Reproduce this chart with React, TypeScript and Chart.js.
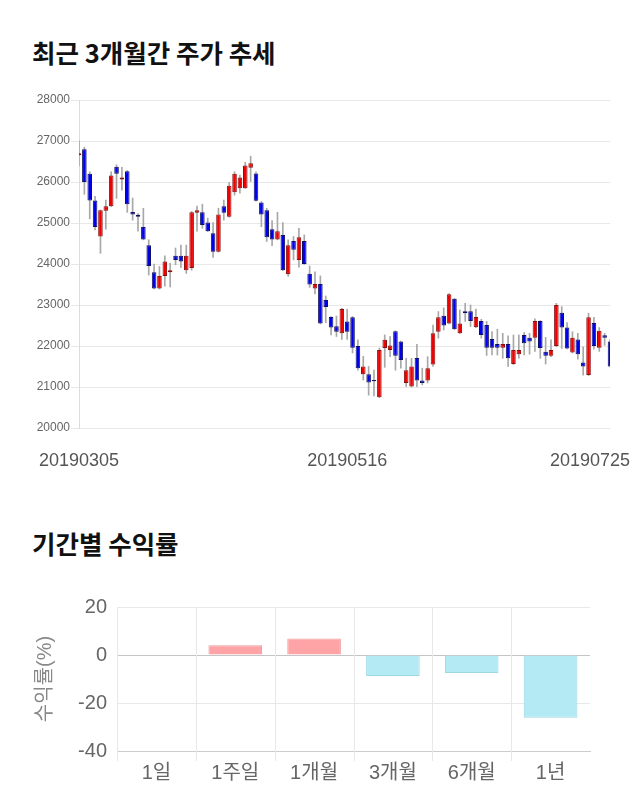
import React, { useEffect, useRef } from "react";
import { Chart, registerables } from "chart.js";

Chart.register(...registerables);

const FONT = "'Liberation Sans', 'Noto Sans CJK KR', Arial, sans-serif";
const TITLE_FONT = "'Noto Sans CJK KR', 'Noto Sans', sans-serif";

// ---------- price data (trading days) ----------
const dates = [
  "20190305","20190306","20190307","20190308","20190311","20190312","20190313","20190314","20190315","20190318",
  "20190319","20190320","20190321","20190322","20190325","20190326","20190327","20190328","20190329","20190401",
  "20190402","20190403","20190404","20190405","20190408","20190409","20190410","20190411","20190412","20190415",
  "20190416","20190417","20190418","20190419","20190422","20190423","20190424","20190425","20190426","20190429",
  "20190430","20190502","20190503","20190507","20190508","20190509","20190510","20190513","20190514","20190515",
  "20190516","20190517","20190520","20190521","20190522","20190523","20190524","20190527","20190528","20190529",
  "20190530","20190531","20190603","20190604","20190605","20190607","20190610","20190611","20190612","20190613",
  "20190614","20190617","20190618","20190619","20190620","20190621","20190624","20190625","20190626","20190627",
  "20190628","20190701","20190702","20190703","20190704","20190705","20190708","20190709","20190710","20190711",
  "20190712","20190715","20190716","20190717","20190718","20190719","20190722","20190723","20190724","20190725",
];

const openPrices = [
  26650,26800,26200,25550,24670,25300,25410,26370,26060,26260,
  25270,25200,24900,24460,23800,23400,23710,23800,24200,24200,
  23850,23900,25250,25260,25010,24750,24300,25410,25150,25750,
  25850,25850,26350,26210,25500,25310,24850,24600,24710,23750,
  24560,24100,24560,23760,23400,23510,23120,22710,22480,22310,
  22600,22700,22000,21310,21310,21170,20750,21950,21900,22360,
  22110,21100,21010,21710,21160,21160,21550,22350,22740,22550,
  23150,22310,22850,22850,22460,22610,22510,22170,22050,21960,
  22050,21560,21800,22270,22200,22200,22610,21860,21760,22000,
  22810,22450,21840,22160,21600,21290,22560,21960,22260,22110,
];

const highPrices = [
  27000,26850,26250,25650,25320,25560,26250,26420,26360,26280,
  25610,25230,25360,24590,24000,23940,24200,24020,24390,24460,
  24460,25280,25410,25460,25120,25010,25360,25560,25990,26250,
  26170,26480,26630,26250,25520,25360,25060,25260,25010,24590,
  24670,24870,24710,23950,23810,23710,23220,22720,22730,22920,
  22900,22720,22150,21750,21500,21410,21950,22270,22230,22370,
  22120,21700,21700,22040,21460,21740,22510,22840,22930,23280,
  23160,22880,23040,23000,22900,22650,22600,22350,22410,22310,
  22250,22270,22270,22330,22310,22660,22620,22210,22150,23040,
  22960,22570,22350,22310,21980,22800,22700,22450,22310,22150,
];

const lowPrices = [
  26400,25700,25100,24830,24260,24850,25400,25600,25800,25260,
  25070,24800,24590,23730,23390,23390,23460,23440,23980,23910,
  23770,23850,24800,24870,24790,24160,24290,25070,25140,25680,
  25730,25840,26010,25530,24910,24550,24450,24590,23840,23700,
  24100,23920,23990,23430,23270,22540,22570,22270,22230,22160,
  22160,21830,21410,21170,20800,20780,20740,21480,21740,21410,
  21460,21010,21000,21010,21050,21100,21500,22190,22390,22540,
  22400,22300,22600,22470,22450,22190,21770,21780,21780,21700,
  21500,21550,21700,21780,21800,21870,21700,21560,21740,21980,
  21940,21930,21830,21680,21290,21280,21920,21870,22020,21490,
];

const closePrices = [
  26700,26000,25550,24900,25310,25410,26160,26200,26110,25460,
  25210,25150,24600,23950,23400,23710,24060,23850,24100,24060,
  24200,25260,25310,24950,24800,24300,25210,25250,25910,26200,
  26110,26400,26460,25540,25210,24650,24600,24800,23850,24460,
  24350,24650,24000,23500,23510,22550,22950,22450,22350,22900,
  22350,21960,21460,21500,21110,21140,21900,22150,22010,21760,
  21660,21410,21500,21160,21100,21460,22310,22700,22500,23260,
  22410,22550,22800,22610,22710,22270,21960,21960,21960,22050,
  21700,21900,21900,22070,22110,22610,21950,21760,21900,23000,
  22450,21940,22200,21800,21500,22700,22000,22370,22200,21500,
];

const shownDates = ["20190305", "20190516", "20190725"];
const priceMin = 20000;
const priceMax = 28000;
const priceStep = 1000;

// ---------- period returns ----------
const periods = ["1일", "1주일", "1개월", "3개월", "6개월", "1년"];
const returns = [0, 4.1, 6.9, -8.8, -7.5, -26.1];
const returnMin = -40;
const returnMax = 20;
const returnStep = 20;

const UP = "#f00000";
const UP_BORDER = "#8a1010";
const DOWN = "#0000f0";
const DOWN_BORDER = "#101060";
const WICK = "#a8a8a8";
const GRID = "#e8e8e8";

const dateLabelPlugin = {
  id: "dateLabels",
  afterDraw(chart: any) {
    const { ctx, chartArea } = chart;
    const xs = chart.scales.x;
    ctx.save();
    ctx.font = `18px ${FONT}`;
    ctx.fillStyle = "#555";
    ctx.textAlign = "center";
    ctx.textBaseline = "middle";
    shownDates.forEach((d) => {
      const i = dates.indexOf(d);
      const w = ctx.measureText(d).width;
      let x = xs.getPixelForValue(i);
      x = Math.min(Math.max(x, w / 2 + 2), chart.width - 10 - w / 2);
      ctx.fillText(d, x, chartArea.bottom + 33);
    });
    ctx.restore();
  },
};

// vertical separators between period categories (no line at the right edge)
const categoryGridPlugin = {
  id: "categoryGrid",
  beforeDatasetsDraw(chart: any) {
    const { ctx, chartArea } = chart;
    const xs = chart.scales.x;
    const n = xs.ticks.length;
    const step = n > 1 ? xs.getPixelForValue(1) - xs.getPixelForValue(0) : chartArea.width;
    ctx.save();
    ctx.strokeStyle = GRID;
    ctx.lineWidth = 1;
    for (let i = 0; i < n; i++) {
      const x = Math.round(xs.getPixelForValue(i) - step / 2) + 0.5;
      ctx.beginPath();
      ctx.moveTo(x, chartArea.top);
      ctx.lineTo(x, chartArea.bottom + 10);
      ctx.stroke();
    }
    ctx.restore();
  },
};

function PriceChart() {
  const ref = useRef<HTMLCanvasElement>(null);
  useEffect(() => {
    const up = closePrices.map((c, i) => c >= openPrices[i]);
    const chart = new Chart(ref.current!, {
      type: "bar",
      data: {
        labels: dates,
        datasets: [
          {
            label: "body",
            data: openPrices.map((o, i) => [o, closePrices[i]]) as any,
            backgroundColor: up.map((u) => (u ? UP : DOWN)),
            borderColor: up.map((u) => (u ? UP_BORDER : DOWN_BORDER)),
            borderWidth: 1,
            borderSkipped: false,
            categoryPercentage: 1,
            barPercentage: 0.85,
            grouped: false,
          } as any,
          {
            label: "wick",
            data: lowPrices.map((l, i) => [l, highPrices[i]]) as any,
            backgroundColor: WICK,
            barThickness: 1,
            grouped: false,
          } as any,
        ],
      },
      options: {
        responsive: false,
        animation: false,
        layout: { padding: { left: 19, right: 30, top: 15, bottom: 57 } },
        plugins: { legend: { display: false }, tooltip: { enabled: false } },
        scales: {
          x: { display: false, offset: false, grid: { display: false } },
          y: {
            min: priceMin,
            max: priceMax,
            ticks: {
              stepSize: priceStep,
              color: "#666",
              font: { size: 12, family: FONT },
              padding: 1,
              callback: (v: any) => String(v),
            },
            grid: { color: GRID, tickLength: 8 },
            border: { color: "#dcdcdc" },
            afterFit: (s: any) => {
              s.width = 60;
            },
          },
        },
      } as any,
      plugins: [dateLabelPlugin],
    });
    return () => chart.destroy();
  }, []);
  return (
    <canvas
      ref={ref}
      width={640}
      height={400}
      style={{ position: "absolute", left: 0, top: 85, width: 640, height: 400 }}
    />
  );
}

function ReturnChart() {
  const ref = useRef<HTMLCanvasElement>(null);
  useEffect(() => {
    const chart = new Chart(ref.current!, {
      type: "bar",
      data: {
        labels: periods,
        datasets: [
          {
            data: returns,
            backgroundColor: returns.map((v) => (v >= 0 ? "#ffa4a6" : "#b3eaf3")),
            borderColor: returns.map((v) => (v >= 0 ? "#eb9c9e" : "#9fd8e4")),
            borderWidth: 1,
            barPercentage: 0.85,
            categoryPercentage: 0.8,
          },
        ],
      },
      options: {
        responsive: false,
        animation: false,
        layout: { padding: { left: 29, right: 50, top: 20, bottom: 0 } },
        plugins: { legend: { display: false }, tooltip: { enabled: false } },
        scales: {
          x: {
            ticks: { color: "#666", font: { size: 20, family: FONT }, padding: 2 },
            grid: { display: false },
            border: { display: true, color: "#cccccc" },
          },
          y: {
            min: returnMin,
            max: returnMax,
            ticks: { stepSize: returnStep, color: "#666", font: { size: 20, family: FONT }, padding: 10 },
            grid: {
              drawTicks: false,
              color: (c: any) => (c.tick && c.tick.value === 0 ? "#c4c4c4" : GRID),
            },
            border: { color: "#e0e0e0" },
            title: {
              display: true,
              text: "수익률(%)",
              color: "#888",
              font: { size: 20, family: FONT },
              padding: 4,
            },
            afterFit: (s: any) => {
              s.width = 88;
            },
          },
        },
      } as any,
      plugins: [categoryGridPlugin],
    });
    return () => chart.destroy();
  }, []);
  return (
    <canvas
      ref={ref}
      width={640}
      height={202}
      style={{ position: "absolute", left: 0, top: 585, width: 640, height: 202 }}
    />
  );
}

const titleStyle: React.CSSProperties = {
  position: "absolute",
  left: 32,
  margin: 0,
  fontFamily: TITLE_FONT,
  fontWeight: 700,
  fontSize: 25.5,
  lineHeight: "26px",
  color: "#111",
  whiteSpace: "nowrap",
};

export default function App() {
  return (
    <div
      style={{
        position: "absolute",
        left: 0,
        top: 0,
        width: 640,
        height: 810,
        background: "#fff",
        overflow: "hidden",
      }}
    >
      <div style={{ ...titleStyle, top: 39 }}>최근 3개월간 주가 추세</div>
      <PriceChart />
      <div style={{ ...titleStyle, top: 530 }}>기간별 수익률</div>
      <ReturnChart />
    </div>
  );
}
